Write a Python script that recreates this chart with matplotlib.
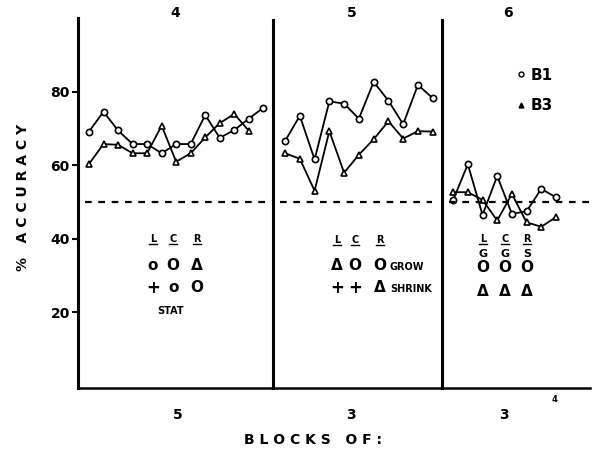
import matplotlib.pyplot as plt
from matplotlib.lines import Line2D

W, H = 598, 454

# block number inside each condition panel
blocks4 = list(range(1, 14))
blocks5 = list(range(1, 12))
blocks6 = list(range(1, 9))

# % accuracy
b1_4 = [69.1, 74.5, 69.4, 65.7, 65.7, 63.2, 65.7, 65.7, 73.6, 67.4, 69.5, 72.6, 75.6]
b3_4 = [60.3, 65.7, 65.5, 63.2, 63.2, 70.7, 60.9, 63.2, 67.5, 71.4, 73.9, 69.3]
b1_5 = [66.5, 73.4, 61.5, 77.3, 76.7, 72.6, 82.6, 77.5, 71.1, 81.8, 78.2]
b3_5 = [63.2, 61.7, 53.0, 69.2, 57.9, 62.8, 67.0, 71.9, 67.2, 69.2, 69.1]
b1_6 = [50.5, 60.2, 46.4, 57.0, 46.7, 47.4, 53.5, 51.2]
b3_6 = [52.6, 52.6, 50.5, 44.9, 52.1, 44.4, 43.2, 45.8]

panel_titles = ['4', '5', '6']
block_sizes = ['5', '3', '3']
chance = 50
yticks = [20, 40, 60, 80]

plt.rcParams['font.family'] = 'DejaVu Sans'
plt.rcParams['font.weight'] = 'bold'


def fx(x):
    return x / W


def fy(y):
    return 1 - y / H


fig = plt.figure(figsize=(W / 100, H / 100), dpi=100)

# panel edges in pixels (left, right) and x limits in block units
edges = [(77.5, 272.5), (272.5, 442), (442, 590)]
xlims = [(0.21, 13.63), (0.15, 11.63), (0.24, 10.32)]
data = [(blocks4, b1_4, b3_4), (blocks5, b1_5, b3_5), (blocks6, b1_6, b3_6)]
dash_span = [(0.04, 0.99), (0.045, 0.94), (0.05, 1.0)]

top, bottom = 18, 388
axes = []
for i, ((l, r), xl, (bx, c1, c3)) in enumerate(zip(edges, xlims, data)):
    ax = fig.add_axes([fx(l), fy(bottom), (r - l) / W, (bottom - top) / H])
    ax.set_xlim(*xl)
    ax.set_ylim(-0.68, 100)
    ax.patch.set_alpha(0)
    for s in ['top', 'right']:
        ax.spines[s].set_visible(False)
    ax.spines['left'].set_linewidth(2.2)
    ax.spines['bottom'].set_linewidth(1.8)
    ax.set_xticks([])
    if i == 0:
        ax.set_yticks(yticks)
        ax.set_yticklabels([str(t) for t in yticks], fontsize=10, fontweight='bold')
        ax.tick_params(axis='y', length=4, width=1.5, pad=1.5)
    else:
        ax.spines['left'].set_bounds(-0.68, 99.4)
        ax.set_yticks([])
    ax.plot(bx, c1, color='k', lw=1.3, marker='o', ms=4.5, mfc='white', mec='k', mew=1.2)
    ax.plot(bx[:len(c3)], c3, color='k', lw=1.3, marker='^', ms=4.8, mfc='white', mec='k', mew=1.2)
    ax.axhline(chance, xmin=dash_span[i][0], xmax=dash_span[i][1], color='k', lw=1.6, dashes=(3.0, 3.0))
    axes.append(ax)

# panel numbers and block sizes
for t, x in zip(panel_titles, [175, 352, 508]):
    fig.text(fx(x), fy(13), t, ha='center', va='center', fontsize=10, fontweight='bold')
for t, x in zip(block_sizes, [178, 351, 504]):
    fig.text(fx(x), fy(415), t, ha='center', va='center', fontsize=10, fontweight='bold')
fig.text(fx(555), fy(400), '4', ha='center', va='center', fontsize=6, fontweight='bold')
fig.text(fx(313), fy(440), 'B L O C K S   O F :', ha='center', va='center', fontsize=10, fontweight='bold')
fig.text(fx(23), fy(197), '%   A C C U R A C Y', ha='center', va='center', rotation=90,
         fontsize=10, fontweight='bold')


def put(x, y, s, size=11, ha='center'):
    fig.text(fx(x), fy(y), s, ha=ha, va='center', fontsize=size, fontweight='bold')


def header(x, y, s):
    # underlined position letter
    put(x, y, s, size=7)
    fig.add_artist(Line2D([fx(x - 4), fx(x + 4)], [fy(y + 5), fy(y + 5)], color='k', lw=1.0))


# condition key, panel 4
for s, x in zip('LCR', [153, 173, 197]):
    header(x, 239, s)
for s, x in zip(['o', 'O', 'Δ'], [153, 173, 197]):
    put(x, 266, s)
for s, x in zip(['+', 'o', 'O'], [153, 174, 197]):
    put(x, 288, s, size=12 if s == '+' else 11)
put(171, 311, 'STAT', size=7)

# panel 5
for s, x in zip('LCR', [337, 355, 380]):
    header(x, 240, s)
for s, x in zip(['Δ', 'O', 'O'], [337, 355, 380]):
    put(x, 266, s)
for s, x in zip(['+', '+', 'Δ'], [337, 355, 380]):
    put(x, 288, s, size=12 if s == '+' else 11)
put(389, 267, 'GROW', size=7, ha='left')
put(390, 289, 'SHRINK', size=7, ha='left')

# panel 6
for s, x in zip('LCR', [483, 505, 527]):
    header(x, 239, s)
for s, x in zip('GGS', [483, 505, 527]):
    put(x, 254, s, size=8)
for x in [483, 505, 527]:
    put(x, 267, 'O')
    put(x, 292, 'Δ')

handles = [Line2D([], [], ls='none', marker='o', ms=3.5, mfc='white', mec='k', mew=1.0),
           Line2D([], [], ls='none', marker='^', ms=3.5, mfc='k', mec='k')]
fig.legend(handles, ['B1', 'B3'], loc='upper left', bbox_to_anchor=(fx(509), fy(60)),
           frameon=False, handlelength=0.6, handletextpad=0.3,
           labelspacing=1.0, borderpad=0, prop={'weight': 'bold', 'size': 11})

fig.savefig('out.png', dpi=100, facecolor='white')
